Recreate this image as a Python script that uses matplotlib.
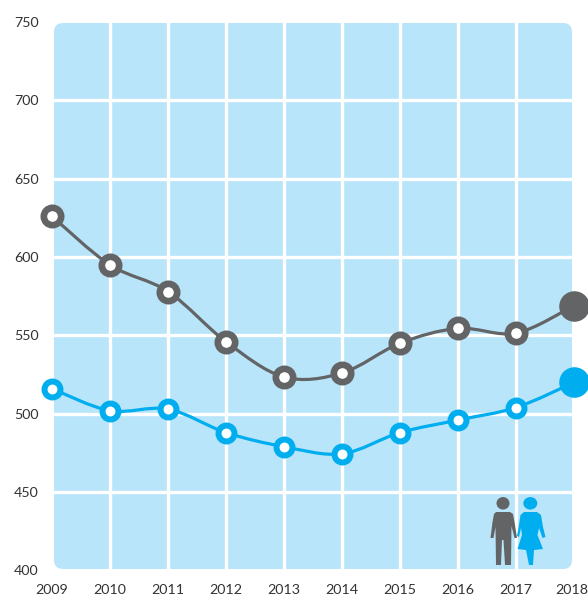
import numpy as np
import matplotlib
matplotlib.use("Agg")
import matplotlib.pyplot as plt
from matplotlib.patches import FancyBboxPatch, Ellipse, Polygon, PathPatch
from matplotlib.path import Path
from matplotlib.transforms import ScaledTranslation

years = [2009, 2010, 2011, 2012, 2013, 2014, 2015, 2016, 2017, 2018]
grey_values = [626, 595, 578, 546, 523.5, 526, 545, 554.5, 551.5, 569]
blue_values = [516, 502, 503, 488, 479, 474.5, 488, 496, 504, 520]
y_ticks = [400, 450, 500, 550, 600, 650, 700, 750]

GREY = "#636466"
BLUE = "#00aeef"
PANEL = "#b9e5fb"
TEXT = "#333333"
plt.rcParams["font.family"] = ["Lato", "DejaVu Sans"]

W, H = 588, 597
fig = plt.figure(figsize=(W / 100, H / 100), dpi=100)

# pixel-space backdrop: rounded panel
bg = fig.add_axes([0, 0, 1, 1], zorder=0)
bg.set_xlim(0, W)
bg.set_ylim(H, 0)
bg.axis("off")
r = 9
bg.add_patch(FancyBboxPatch((54 + r, 23 + r), 518 - 2 * r, 546 - 2 * r,
                            boxstyle=f"round,pad={r},rounding_size={r}",
                            fc=PANEL, ec="none"))

L, Rt, T, B = 52, 574, 22, 570.5
ax = fig.add_axes([L / W, 1 - B / H, (Rt - L) / W, (B - T) / H], zorder=1)
ax.patch.set_alpha(0)
ax.set_xlim(2009, 2018)
ax.set_ylim(400, 750)
for s in ax.spines.values():
    s.set_visible(False)
ax.set_xticks(years)
ax.set_yticks(y_ticks)
ax.tick_params(length=0, labelsize=10.3, labelcolor=TEXT)
ax.tick_params(axis="y", pad=9.5)
ax.tick_params(axis="x", pad=9.5)
last = ax.get_xticklabels()[-1]
last.set_transform(last.get_transform() + ScaledTranslation(-2 / 100, 0, fig.dpi_scale_trans))
for x in years[1:-1]:
    ax.axvline(x, color="white", lw=2.4, zorder=1)
for y in y_ticks[1:-1]:
    ax.axhline(y, color="white", lw=2.4, zorder=1)


def smooth(xs, ys, color):
    xs, ys = np.asarray(xs, float), np.asarray(ys, float)
    n = len(xs)
    verts = [(xs[0], ys[0])]
    codes = [Path.MOVETO]
    for i in range(n - 1):
        i0, i3 = max(i - 1, 0), min(i + 2, n - 1)
        c1 = (xs[i] + (xs[i + 1] - xs[i0]) / 6, ys[i] + (ys[i + 1] - ys[i0]) / 6)
        c2 = (xs[i + 1] - (xs[i3] - xs[i]) / 6, ys[i + 1] - (ys[i3] - ys[i]) / 6)
        verts += [c1, c2, (xs[i + 1], ys[i + 1])]
        codes += [Path.CURVE4] * 3
    ax.add_patch(PathPatch(Path(verts, codes), fc="none", ec=color, lw=2.3,
                           zorder=3, clip_on=False))


for vals, col, size, edge in ((grey_values, GREY, 12.5, 4.8), (blue_values, BLUE, 11.5, 4.3)):
    smooth(years, vals, col)
    ax.plot(years[:-1], vals[:-1], ls="none", marker="o", ms=size, mfc="white",
            mec=col, mew=edge, zorder=4, clip_on=False)
    ax.plot(years[-1:], vals[-1:], ls="none", marker="o", ms=22, mfc=col,
            mec=col, mew=0, zorder=4, clip_on=False)

# people icon, pixel space
ic = fig.add_axes([0, 0, 1, 1], zorder=2)
ic.set_xlim(0, W)
ic.set_ylim(H, 0)
ic.axis("off")
ic.patch.set_alpha(0)
ic.add_patch(Ellipse((503, 503.3), 13, 12.5, fc=GREY, ec="none"))
ic.add_patch(Polygon([(496, 512), (510, 512), (513, 514), (515, 525), (517, 538),
                      (514.5, 538), (511.5, 526), (511, 565), (505, 565),
                      (503.5, 540), (502, 540), (501, 565), (496, 565),
                      (495.5, 527), (493.5, 538), (490.5, 538), (492.5, 522),
                      (494, 514)], fc=GREY, ec="none"))
ic.add_patch(Ellipse((530.3, 503.3), 14, 12.5, fc=BLUE, ec="none"))
ic.add_patch(Polygon([(524, 512), (537, 512), (541, 515), (543, 527), (545.5, 537),
                      (542.5, 538), (539, 528), (537.5, 535), (543, 549),
                      (534, 550), (533, 565), (529, 565), (526, 550), (517.5, 549),
                      (522, 535), (521, 528), (519, 537), (517, 536), (519, 525),
                      (520.5, 515)], fc=BLUE, ec="none"))

fig.savefig("out.png", dpi=100)
